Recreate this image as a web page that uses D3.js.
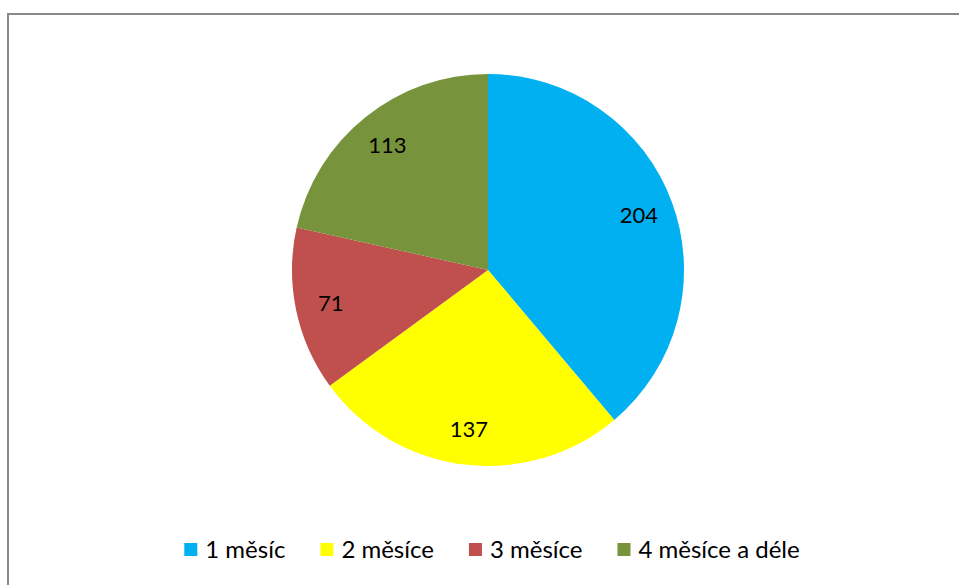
<!DOCTYPE html>
<meta charset="utf-8">
<style>
body { margin: 0; background: #fff; }
text { font-family: Lato, "Open Sans", sans-serif; fill: #000; }
</style>
<body>
<script src="https://d3js.org/d3.v7.min.js"></script>
<script>

// data
var categories = ["1 měsíc", "2 měsíce", "3 měsíce", "4 měsíce a déle"];
var values = [204, 137, 71, 113];
var colors = ["#00b0f0", "#ffff00", "#c0504d", "#77933c"];

var width = 959, height = 585;
var cx = 488, cy = 270, radius = 196;

var svg = d3.select("body").append("svg")
    .attr("width", width)
    .attr("height", height);

// chart border (right and bottom run off the page)
svg.append("rect")
    .attr("x", 8)
    .attr("y", 14)
    .attr("width", 960)
    .attr("height", 600)
    .attr("fill", "none")
    .attr("stroke", "#898989")
    .attr("stroke-width", 2);

var pie = d3.pie().sort(null).value(function(d) { return d; });
var arcs = pie(values);

var arc = d3.arc().innerRadius(0).outerRadius(radius);
var labelArc = d3.arc().innerRadius(radius * 0.82).outerRadius(radius * 0.82);

var g = svg.append("g")
    .attr("transform", "translate(" + cx + "," + cy + ")");

g.selectAll("path.slice").data(arcs)
  .enter().append("path")
    .attr("class", "slice")
    .attr("d", arc)
    .attr("fill", function(d, i) { return colors[i]; });

g.selectAll("text.lbl").data(arcs)
  .enter().append("text")
    .attr("class", "lbl")
    .attr("transform", function(d) { return "translate(" + labelArc.centroid(d) + ")"; })
    .attr("text-anchor", "middle")
    .attr("dy", "0.36em")
    .attr("font-size", 22)
    .text(function(d) { return d.data; });

// legend
var legend = svg.append("g");
var items = legend.selectAll("g").data(categories)
  .enter().append("g");

items.append("rect")
    .attr("width", 13)
    .attr("height", 13)
    .attr("y", -15)
    .attr("fill", function(d, i) { return colors[i]; });

items.append("text")
    .attr("x", 21)
    .attr("font-size", 24)
    .text(function(d) { return d; });

var xpos = 0, gap = 35;
items.each(function() {
  var w = this.getBBox().width;
  d3.select(this).attr("transform", "translate(" + xpos + ",0)");
  xpos += w + gap;
});
var total = xpos - gap;
legend.attr("transform", "translate(" + (492 - total / 2) + ",558)");

</script>
</body>
